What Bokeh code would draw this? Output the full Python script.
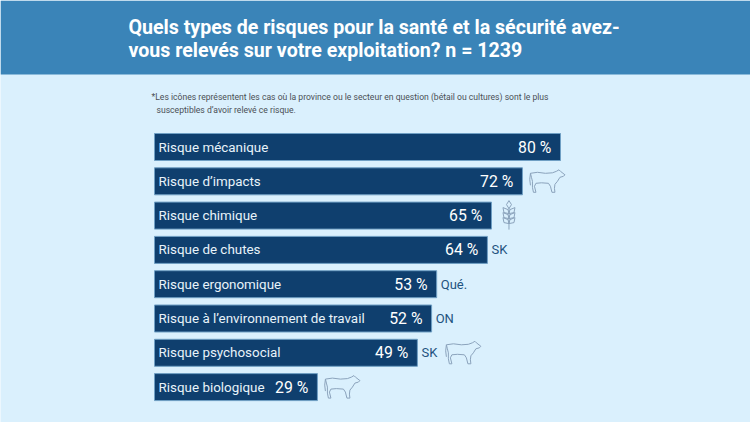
from bokeh.plotting import figure
from bokeh.models import Range1d
from bokeh.core.properties import value
from bokeh.embed import file_html
from bokeh.resources import INLINE

# ---- data ----
categories = ["Risque mécanique", "Risque d’impacts", "Risque chimique", "Risque de chutes",
              "Risque ergonomique", "Risque à l’environnement de travail",
              "Risque psychosocial", "Risque biologique"]
percent_labels = [80, 72, 65, 64, 53, 52, 49, 29]
# drawn bar lengths in the reference are not strictly proportional to the labels
drawn_lengths = [80.0, 72.5, 66.4, 65.6, 55.6, 54.6, 51.8, 32.1]
side_labels = ["", "", "", "SK", "Qué.", "ON", "SK", ""]
icons = ["", "cow", "wheat", "", "", "", "cow", "cow"]
title_lines = ["Quels types de risques pour la santé et la sécurité avez-",
               "vous relevés sur votre exploitation? n = 1239"]
note_lines = ["*Les icônes représentent les cas où la province ou le secteur en question (bétail ou cultures) sont le plus",
              "susceptibles d’avoir relevé ce risque."]

# icon outlines (local shape coordinates, pixels)
COW = [(1, 4), (8, 3), (16, 4), (23, 3.5), (27, 2), (29.5, 0.5), (31, 2), (35.5, 5.5), (34, 7), (30.5, 8),
       (28, 12), (25.5, 15), (25, 19), (25.5, 23), (22.5, 23), (21, 17), (19, 14), (12, 13.5), (6.5, 14),
       (5, 17), (6.5, 23), (4, 23), (3, 18), (3, 12), (2, 8), (1, 4)]
TAIL = [(1, 4), (0.3, 10), (1, 16)]

BG, HEAD, BAR = "#daf0fd", "#3a84b8", "#0f3f6e"
EDGE, INK, ICON = "#6f9fc4", "#4a4f55", "#8ba3bc"

W, H = 750, 422
PX_PER_UNIT = 5.075
X0 = 154 / PX_PER_UNIT
p = figure(width=W, height=H, output_backend="svg", toolbar_location=None, min_border=0,
           x_range=Range1d(-X0, W / PX_PER_UNIT - X0),
           y_range=Range1d((422 - 146.5) / 34.3, (0 - 146.5) / 34.3),
           background_fill_color=BG, border_fill_color=BG, outline_line_color=None)
p.axis.visible = False
p.grid.visible = False
p.extra_x_ranges["px"] = Range1d(0, 750)
p.extra_y_ranges["py"] = Range1d(422, 0)
PX = dict(x_range_name="px", y_range_name="py")

# header
p.quad(left=[0], right=[750], top=[0], bottom=[74], fill_color=HEAD, line_color=None, **PX)
p.text(x=[128, 128], y=[27, 50], text=title_lines, text_color="white", text_baseline="middle",
       text_font=value("Roboto"), text_font_style="bold", text_font_size="19.6px", **PX)
p.text(x=[151, 156], y=[96, 109], text=note_lines, text_color=INK, text_baseline="middle",
       text_font=value("Roboto"), text_font_size="8.6px", **PX)

# bars
rows = list(range(len(categories)))
p.hbar(y=rows, left=0, right=drawn_lengths, height=27 / 34.3, fill_color=BAR, line_color=EDGE, line_width=1)
p.text(x=[0.8] * 8, y=rows, text=categories, text_color="#e8f3fa", text_baseline="middle", x_offset=0,
       text_font=value("Roboto"), text_font_size="13.4px")
p.text(x=[v - 1.8 for v in drawn_lengths], y=rows, text=[f"{v} %" for v in percent_labels], text_color="white",
       text_align="right", text_baseline="middle", text_font=value("Roboto"), text_font_size="15.8px")
p.text(x=[v + 0.8 for v in drawn_lengths], y=rows, text=side_labels, text_color="#1f5380", text_baseline="middle",
       text_font=value("Roboto"), text_font_size="13px")

# icons, anchored on each bar end
xs, ys = [], []
for r, (kind, v, side) in enumerate(zip(icons, drawn_lengths, side_labels)):
    bar_end_px = 154 + v * PX_PER_UNIT
    cy = 146.5 + 34.3 * r
    if kind == "cow":
        ox = bar_end_px + (28 if side else 7)
        oy = cy - 12
        for shape in (COW, TAIL):
            xs.append([ox + a for a, b in shape])
            ys.append([oy + b for a, b in shape])
    elif kind == "wheat":
        ox = bar_end_px + 17.5
        xs.append([ox, ox]); ys.append([cy - 8, cy + 14])
        xs.append([ox - 2.5, ox, ox + 2.5, ox, ox - 2.5]); ys.append([cy - 11, cy - 15, cy - 11, cy - 7, cy - 11])
        for dy in (-6, -1, 4):
            for s in (-1, 1):
                xs.append([ox, ox + s * 1, ox + s * 6, ox + s * 5, ox])
                ys.append([cy + dy + 4, cy + dy, cy + dy - 2, cy + dy + 3, cy + dy + 4])
p.multi_line(xs=xs, ys=ys, line_color=ICON, line_width=1, **PX)

open("out.html", "w").write(file_html(p, INLINE))
